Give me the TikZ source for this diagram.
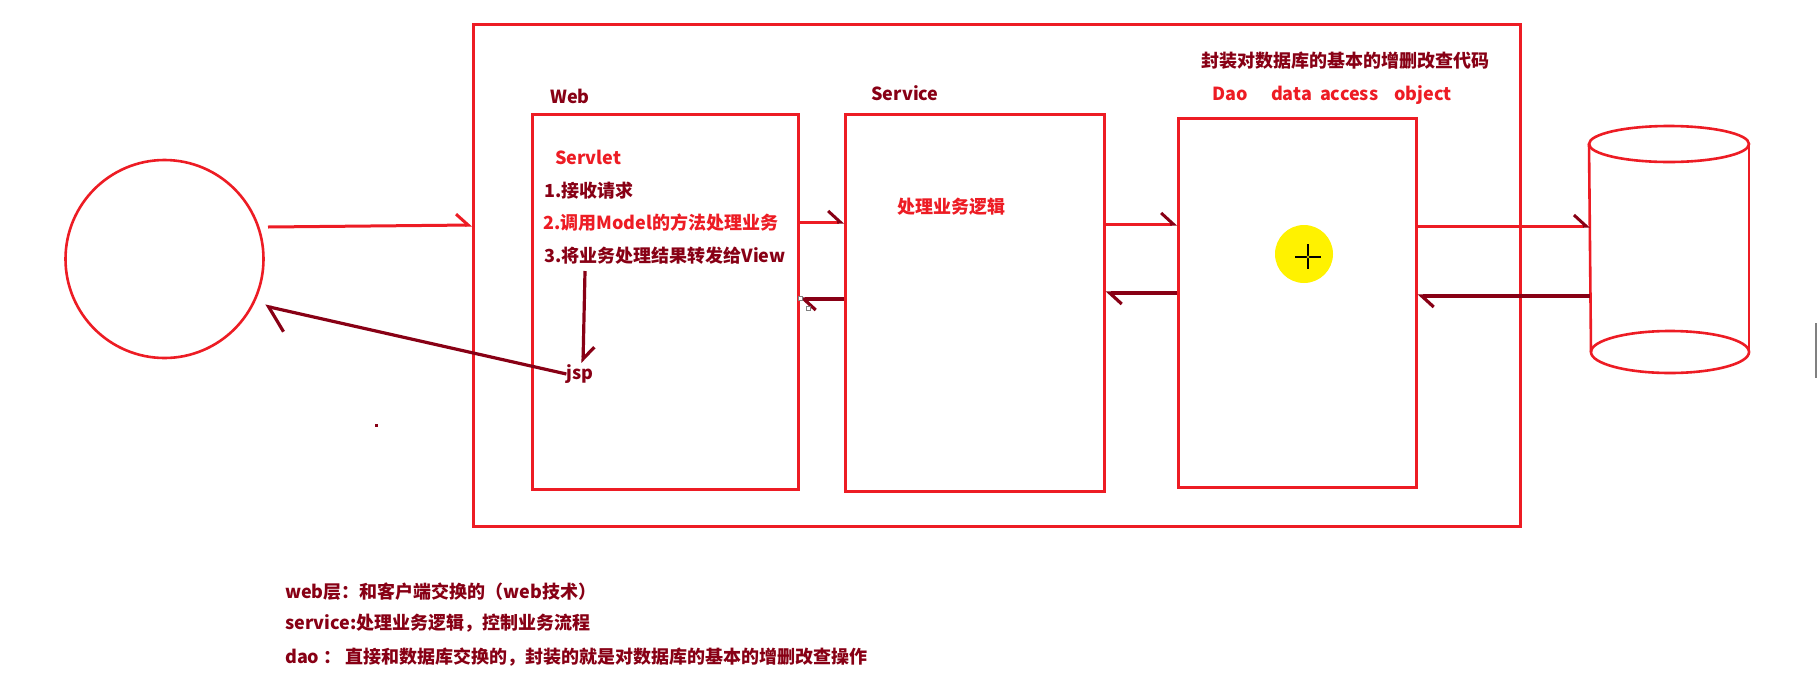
\documentclass[tikz,border=0pt]{standalone}
\usepackage{fontspec}
\setmainfont{Noto Sans CJK SC}
\usetikzlibrary{arrows.meta}
\definecolor{pred}{RGB}{237,28,36}
\definecolor{dred}{RGB}{136,0,21}
\begin{document}
\begin{tikzpicture}[x=1pt,y=-1pt,
  box/.style={draw=pred, line width=2.6pt, inner sep=0pt, anchor=north west},
  rline/.style={draw=pred, line width=3pt},
  dline/.style={draw=dred, line width=3.2pt},
  barbR/.style={-{Straight Barb[left, length=12pt, width=22pt]}},
  barbD/.style={-{Straight Barb[left, length=12pt, width=22pt, color=dred]}},
  lbl/.style={font=\bfseries\fontsize{18}{22}\selectfont, inner sep=0pt},
  rtext/.style={lbl, text=pred},
  dtext/.style={lbl, text=dred},
]
\useasboundingbox (0,0) rectangle (1817,678);
\fill[white] (0,0) rectangle (1817,678);

% boxes
\node[circle, draw=pred, line width=2.6pt, minimum size=198pt, inner sep=0pt] (client) at (164.5,259) {};
\node[box, minimum width=1047pt, minimum height=502pt] (outer) at (472,23) {};
\node[box, minimum width=266pt, minimum height=375pt] (web) at (531,113) {};
\node[box, minimum width=259pt, minimum height=377pt] (svc) at (844,113) {};
\node[box, minimum width=238pt, minimum height=369pt] (dao) at (1177,117) {};
\node[inner sep=0pt, minimum width=159pt, minimum height=208pt] (db) at (1669.5,248) {};

% database cylinder
\draw[pred, line width=2.6pt] (1669,144) ellipse [x radius=80, y radius=18];
\draw[pred, line width=2.6pt] (1670,352) ellipse [x radius=79, y radius=21];
\draw[pred, line width=2.6pt] (1589,144) -- (1591,352);
\draw[pred, line width=2.6pt] (1749,144) -- (1749,352);

% labels
\node[dtext] (weblbl) at (570,96) {Web};
\node[dtext] (svclbl) at (905,93) {Service};
\node[rtext, anchor=west] (daolbl) at (1212,95) {Dao\hspace{1.3em}data\hspace{0.45em}access\hspace{0.9em}object};
\node[dtext] (daonote) at (1345,61) {封装对数据库的基本的增删改查代码};

\node[rtext, anchor=west] (servlet) at (555,157) {Servlet};
\node[dtext, anchor=west] (l1) at (544,191) {1.接收请求};
\node[rtext, anchor=west] (l2) at (543,223) {2.调用Model的方法处理业务};
\node[dtext, anchor=west] (l3) at (544,256) {3.将业务处理结果转发给View};
\node[dtext] (jsp) at (580,374) {jsp};
\node[rtext] (svctext) at (951,207) {处理业务逻辑};

% bottom notes
\node[dtext, anchor=west] (n1) at (285,592) {web层：和客户端交换的（web技术）};
\node[dtext, anchor=west] (n2) at (285,623) {service:处理业务逻辑，控制业务流程};
\node[dtext, anchor=west] (n3) at (285,657) {dao ： 直接和数据库交换的，封装的就是对数据库的基本的增删改查操作};

% connector end points
\coordinate (cOut) at (268,227);
\coordinate (cIn) at (265,306);
\coordinate (l3down) at (585,271);

% connectors
\draw[rline, barbR] (cOut) -- (outer.west |- 0,225);
\draw[rline, barbD] (web.east |- 0,222) -- (svc.west |- 0,222);
\draw[dline, barbD] (svc.west |- 0,299) -- (web.east |- 0,299);
\draw[rline, barbD] (svc.east |- 0,224) -- (dao.west |- 0,224);
\draw[dline, barbD] (dao.west |- 0,293) -- (svc.east |- 0,293);
\draw[rline, barbD] (dao.east |- 0,226) -- (db.west |- 0,226);
\draw[dline, barbD] (db.west |- 0,296) -- (dao.east |- 0,296);
\draw[dline, barbD] (l3down) -- (583,363);
\draw[dline, -{Straight Barb[left, length=20pt, width=42pt]}] (jsp.west) -- (cIn);

% cursor highlight
\fill[yellow] (1304,254) circle [radius=29];
\draw[black, line width=1.2pt] (1295,257) -- (1321,257);
\draw[black, line width=1.2pt] (1308,244) -- (1308,269);
\draw[black, line width=0.6pt, fill=yellow] (1308,257) circle [radius=1.8];

% small artifacts
\fill[dred] (374.5,423.5) rectangle (377.5,426.5);
\fill[gray] (1815,323) rectangle (1817,378);
\draw[gray, line width=0.6pt, fill=white] (798,296) rectangle (802,300);
\draw[gray, line width=0.6pt, fill=white] (806,306) rectangle (810,310);
\end{tikzpicture}
\end{document}
